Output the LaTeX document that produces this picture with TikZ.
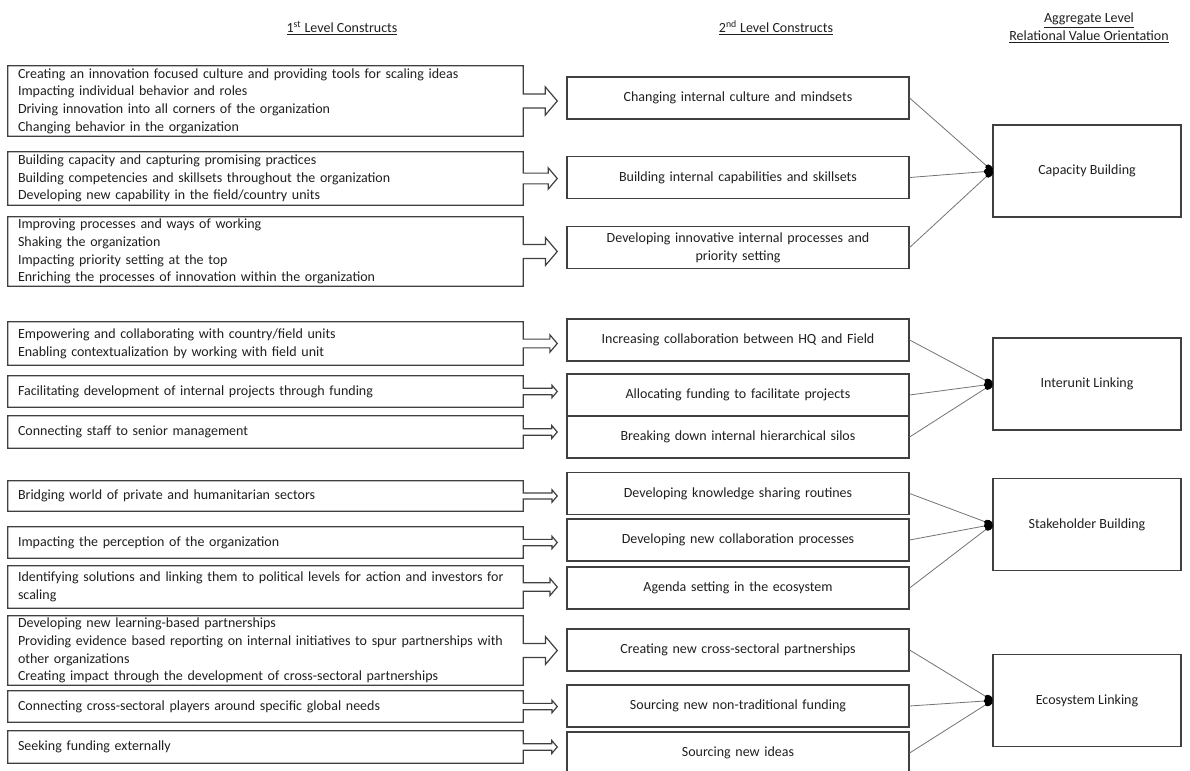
\documentclass[tikz,border=0pt]{standalone}
\usepackage{fontspec}
\setmainfont{Carlito}
\usetikzlibrary{arrows.meta,calc}

% outline of a first-level box with its right-pointing arrow
\newcommand\calloutframe[1]{%
  \draw[frame] let \p1=(#1.north east), \p2=(#1.south east),
     \n1={\y1-\y2}, \n2={\x1+25.5pt}, \n3={(\y1+\y2)/2}, \n4={\n2-0.17*\n1} in
   (#1.south west) -- (#1.north west) -- (\p1)
   -- (\x1,\n3+0.1*\n1) -- (\n4,\n3+0.1*\n1) -- (\n4,\n3+0.2*\n1)
   -- (\n2,\n3) -- (\n4,\n3-0.2*\n1) -- (\n4,\n3-0.1*\n1)
   -- (\x1,\n3-0.1*\n1) -- (\p2) -- cycle;}

\begin{document}
\begin{tikzpicture}[x=0.75pt,y=-0.75pt,
  txt/.style={font=\fontsize{10.5}{13.3}\selectfont, text=black!88},
  ht/.style={minimum height=#1*0.75pt},
  frame/.style={draw=black!75, line width=0.9pt},
  onebox/.style={txt, inner sep=0pt, minimum width=515*0.75pt, text width=371.25pt, align=left},
  twobox/.style={txt, frame, inner sep=0pt, minimum width=342*0.75pt, minimum height=42*0.75pt, text width=240pt, align=center},
  aggbox/.style={txt, frame, inner sep=0pt, minimum width=188*0.75pt, minimum height=92*0.75pt, align=center},
  head/.style={txt, align=center, inner sep=0pt},
  conn/.style={draw=black!55, line width=0.6pt, -{Ellipse[length=6.5pt,width=4.5pt,color=black]}}
]
\useasboundingbox (0,0) rectangle (1190,771);
\clip (0,0) rectangle (1190,771);

% column headings
\node[head] (h1) at (342,28) {\underline{1\textsuperscript{st} Level Constructs}};
\node[head] (h2) at (776,28) {\underline{2\textsuperscript{nd} Level Constructs}};
\node[head] (h3) at (1089,28) {\underline{Aggregate Level}\\\underline{Relational Value Orientation}};

% first-level constructs
\node[onebox, ht=70] (p1) at (265.5,101) {Creating an innovation focused culture and providing tools for scaling ideas\\Impacting individual behavior and roles\\Driving innovation into all corners of the organization\\Changing behavior in the organization};
\node[onebox, ht=53] (p2) at (265.5,178.5) {Building capacity and capturing promising practices\\Building competencies and skillsets throughout the organization\\Developing new capability in the field/country units};
\node[onebox, ht=69] (p3) at (265.5,251.5) {Improving processes and ways of working\\Shaking the organization\\Impacting priority setting at the top\\Enriching the processes of innovation within the organization};
\node[onebox, ht=43] (p4) at (265.5,343.5) {Empowering and collaborating with country/field units\\Enabling contextualization by working with field unit};
\node[onebox, ht=31] (p5) at (265.5,391.5) {Facilitating development of internal projects through funding};
\node[onebox, ht=32] (p6) at (265.5,432) {Connecting staff to senior management};
\node[onebox, ht=30] (p7) at (265.5,496) {Bridging world of private and humanitarian sectors};
\node[onebox, ht=31] (p8) at (265.5,542.5) {Impacting the perception of the organization};
\node[onebox, ht=42] (p9) at (265.5,587) {Identifying solutions and linking them to political levels for action and investors for\\scaling};
\node[onebox, ht=69] (p10) at (265.5,650.5) {Developing new learning-based partnerships\\Providing evidence based reporting on internal initiatives to spur partnerships with\\other organizations\\Creating impact through the development of cross-sectoral partnerships};
\node[onebox, ht=31] (p11) at (265.5,706.5) {Connecting cross-sectoral players around specific global needs};
\node[onebox, ht=32] (p12) at (265.5,747) {Seeking funding externally};

\foreach \b in {p1,p2,p3,p4,p5,p6,p7,p8,p9,p10,p11,p12} {\calloutframe{\b}}

% second-level constructs
\node[twobox] (s1) at (738,98) {Changing internal culture and mindsets};
\node[twobox] (s2) at (738,177.5) {Building internal capabilities and skillsets};
\node[twobox] (s3) at (738,247.5) {Developing innovative internal processes and\\priority setting};
\node[twobox] (s4) at (738,340) {Increasing collaboration between HQ and Field};
\node[twobox] (s5) at (738,395) {Allocating funding to facilitate projects};
\node[twobox] (s6) at (738,437) {Breaking down internal hierarchical silos};
\node[twobox] (s7) at (738,493.5) {Developing knowledge sharing routines};
\node[twobox] (s8) at (738,540) {Developing new collaboration processes};
\node[twobox] (s9) at (738,588) {Agenda setting in the ecosystem};
\node[twobox] (s10) at (738,650) {Creating new cross-sectoral partnerships};
\node[twobox] (s11) at (738,706) {Sourcing new non-traditional funding};
\node[twobox] (s12) at (738,753) {Sourcing new ideas};

% aggregate dimensions
\node[aggbox] (a1) at (1087,171) {Capacity Building};
\node[aggbox] (a2) at (1087,384) {Interunit Linking};
\node[aggbox] (a3) at (1087,524.5) {Stakeholder Building};
\node[aggbox] (a4) at (1087,700.5) {Ecosystem Linking};

% links to the aggregate dimensions
\foreach \s in {s1,s2,s3} {\draw[conn] (\s.east) -- (a1.west);}
\foreach \s in {s4,s5,s6} {\draw[conn] (\s.east) -- (a2.west);}
\foreach \s in {s7,s8,s9} {\draw[conn] (\s.east) -- (a3.west);}
\foreach \s in {s10,s11,s12} {\draw[conn] (\s.east) -- (a4.west);}
\end{tikzpicture}
\end{document}
